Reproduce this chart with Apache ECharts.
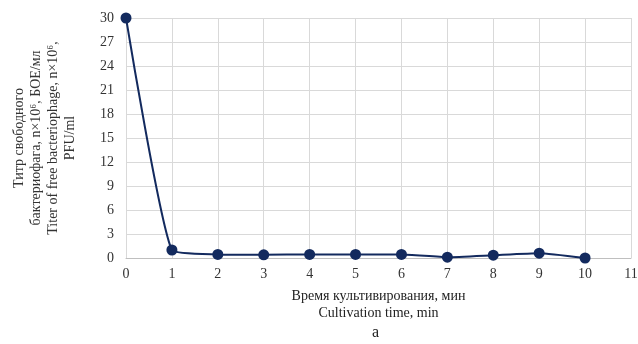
<!DOCTYPE html>
<html>
<head>
<meta charset="utf-8">
<script src="https://cdn.jsdelivr.net/npm/echarts@6/dist/echarts.min.js"></script>
<style>
html, body { margin: 0; padding: 0; background: #fff; }
#main { width: 638px; height: 344px; }
</style>
</head>
<body>
<div id="main"></div>
<script>
// время культивирования, мин
var timeMin = [0, 1, 2, 3, 4, 5, 6, 7, 8, 9, 10];
// титр свободного бактериофага, n×10^6 БОЕ/мл
var titer = [30, 1.0, 0.45, 0.4, 0.45, 0.45, 0.45, 0.1, 0.35, 0.6, 0.0];

var yTitle = "Титр свободного\nбактериофага, n×10⁶, БОЕ/мл\nTiter of free bacteriophage, n×10⁶,\nPFU/ml";
var xTitle = "Время культивирования, мин\nCultivation time, min";

var serif = "Liberation Serif";
var lineColor = "#132a5e";

var voChart = echarts.init(document.getElementById("main"));

var voOption = {
	animation: false,
	textStyle: { fontFamily: serif },
	grid: { left: 126, right: 7, top: 18, bottom: 86, containLabel: false, outerBoundsMode: 'none' },
	xAxis: {
		type: 'value',
		min: 0,
		max: 11,
		interval: 1,
		name: xTitle,
		nameLocation: 'middle',
		nameGap: 30,
		nameTextStyle: { fontFamily: serif, fontSize: 14, color: '#222', lineHeight: 17, verticalAlign: 'top' },
		axisLine: { lineStyle: { color: '#bfbfbf' } },
		axisTick: { show: false },
		axisLabel: { fontFamily: serif, fontSize: 14, color: '#333', margin: 9 },
		splitLine: { show: true, lineStyle: { color: '#d9d9d9' } }
	},
	yAxis: {
		type: 'value',
		min: 0,
		max: 30,
		interval: 3,
		axisLine: { show: false },
		axisTick: { show: false },
		axisLabel: { fontFamily: serif, fontSize: 14, color: '#333', margin: 12 },
		splitLine: { show: true, lineStyle: { color: '#d9d9d9' } }
	},
	series: [{
		type: 'line',
		smooth: 0.15,
		data: timeMin.map(function(t, i){ return [t, titer[i]]; }),
		symbol: 'circle',
		symbolSize: 11,
		lineStyle: { color: lineColor, width: 2 },
		itemStyle: { color: lineColor }
	}],
	graphic: [{
		type: 'text',
		x: 45,
		y: 138,
		rotation: Math.PI / 2,
		style: {
			text: yTitle, fontFamily: serif, fontSize: 14, lineHeight: 17, fill: '#333',
			align: 'center', verticalAlign: 'middle'
		}
	}, {
		type: 'text',
		left: 372,
		top: 325,
		style: { text: 'a', fontFamily: serif, fontSize: 16, fill: '#222' }
	}]
};

voChart.setOption(voOption);
</script>
</body>
</html>
